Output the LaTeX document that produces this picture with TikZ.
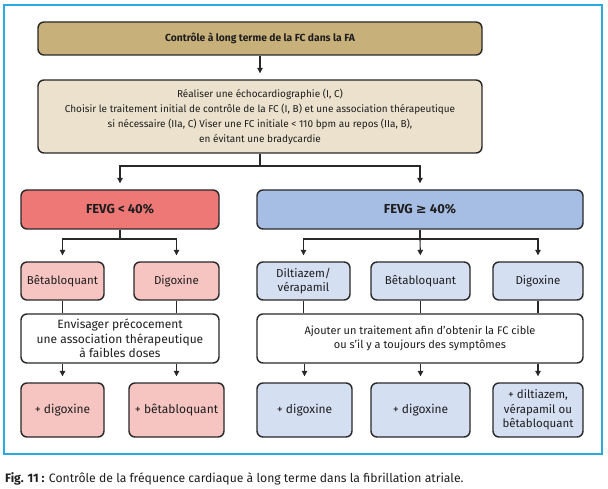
\documentclass[tikz,border=0pt]{standalone}
\usepackage{fontspec}
\setmainfont{Fira Sans}
\newfontfamily\symbfont{DejaVu Sans}
\usetikzlibrary{arrows.meta}

\definecolor{cadre}{RGB}{41,171,226}
\definecolor{trait}{RGB}{40,40,40}
\definecolor{texte}{RGB}{30,30,30}
\definecolor{titrefond}{RGB}{199,176,121}
\definecolor{beigefond}{RGB}{235,225,204}
\definecolor{rouge}{RGB}{238,120,118}
\definecolor{rougeclair}{RGB}{246,197,194}
\definecolor{bleu}{RGB}{167,190,228}
\definecolor{bleuclair}{RGB}{213,223,242}

\begin{document}
\begin{tikzpicture}[x=1pt, y=-1pt, font=\fontsize{11.5}{14.5}\selectfont,
    box/.style = {draw=trait, line width=1.4pt, rounded corners=6pt, align=center, text=texte, inner sep=2pt},
    titre/.style = {font=\fontsize{10.3}{15}\selectfont\bfseries},
    fevg/.style = {font=\fontsize{13}{15}\selectfont\bfseries},
    ajoutbox/.style = {font=\fontsize{12}{14.5}\selectfont},
    link/.style = {draw=trait, line width=1.1pt},
    fleche/.style = {link, -{Triangle[length=5.5pt,width=5.5pt]}, shorten >=6pt}]
    \useasboundingbox (0,0) rectangle (608,489);
    \draw[cadre, line width=1.5pt] (4,5) rectangle (602,454);

    % haut
    \node[box, titre, fill=titrefond, minimum width=444pt, minimum height=33pt] (titre) at (260,38.5) {Contrôle à long terme de la FC dans la FA};
    \node[box, fill=beigefond, minimum width=444pt, minimum height=73pt, font=\fontsize{10}{15}\selectfont] (bilan) at (260,116.5) {Réaliser une échocardiographie (I, C)\\Choisir le traitement initial de contrôle de la FC (I, B) et une association thérapeutique\\si nécessaire (IIa, C) Viser une FC initiale < 110 bpm au repos (IIa, B),\\en évitant une bradycardie};

    % FEVG
    \node[box, fevg, fill=rouge, minimum width=198pt, minimum height=39pt] (basse) at (120,209.5) {FEVG < 40\%};
    \node[box, fevg, fill=bleu, minimum width=326pt, minimum height=39pt] (haute) at (420,209.5) {FEVG {\symbfont\bfseries ≥} 40\%};

    % traitements initiaux
    \node[box, fill=rougeclair, minimum width=83pt, minimum height=38pt] (beta1) at (62.5,281) {Bêtabloquant};
    \node[box, fill=rougeclair, minimum width=85pt, minimum height=38pt] (digo1) at (176.5,281) {Digoxine};
    \node[box, fill=bleuclair, minimum width=93pt, minimum height=38pt] (dilt) at (303.5,281) {Diltiazem/\\vérapamil};
    \node[box, fill=bleuclair, minimum width=99pt, minimum height=38pt] (beta2) at (420.5,281) {Bêtabloquant};
    \node[box, fill=bleuclair, minimum width=90pt, minimum height=38pt] (digo2) at (538,281) {Digoxine};

    % associations
    \node[box, fill=white, minimum width=198pt, minimum height=49pt, font=\fontsize{12}{14.5}\selectfont] (envis) at (120,338.5) {Envisager précocement\\une association thérapeutique\\à faibles doses};
    \node[box, fill=white, minimum width=326pt, minimum height=49pt, font=\fontsize{11}{14.5}\selectfont] (ajout) at (420,338.5) {Ajouter un traitement afin d’obtenir la FC cible\\ou s’il y a toujours des symptômes};

    % ajouts
    \node[box, ajoutbox, fill=rougeclair, minimum width=83pt, minimum height=54pt] (plusd1) at (62.5,410) {+ digoxine};
    \node[box, ajoutbox, fill=rougeclair, minimum width=95pt, minimum height=54pt] (plusb1) at (176.5,410) {+ bêtabloquant};
    \node[box, ajoutbox, fill=bleuclair, minimum width=95pt, minimum height=54pt] (plusd2) at (304.5,410) {+ digoxine};
    \node[box, ajoutbox, fill=bleuclair, minimum width=99pt, minimum height=54pt] (plusd3) at (420.5,410) {+ digoxine};
    \node[box, ajoutbox, fill=bleuclair, minimum width=90pt, minimum height=54pt, font=\fontsize{11.5}{14.5}\selectfont] (plusdv) at (538,410) {+ diltiazem,\\vérapamil ou\\bêtabloquant};

    % legende
    \node[anchor=west, inner sep=0pt, text=texte, font=\fontsize{12.2}{14}\selectfont] (legende) at (5,479) {\textbf{Fig. 11 :} Contrôle de la fréquence cardiaque à long terme dans la fibrillation atriale.};

    % liaisons
    \draw[fleche] (titre.south) -- (bilan.north);
    \coordinate (split) at (260,166);
    \draw[link] (bilan.south) -- (split);
    \draw[fleche] (split) -| (basse.north);
    \draw[fleche] (split) -| (haute.north);

    \coordinate (splitb) at (120,239);
    \draw[link] (basse.south) -- (splitb);
    \draw[fleche] (splitb) -| (beta1.north);
    \draw[fleche] (splitb) -| (digo1.north);

    \coordinate (splith) at (420,239);
    \draw[link] (haute.south) -- (splith);
    \draw[fleche] (splith) -| (dilt.north);
    \draw[fleche] (splith) -- (beta2.north);
    \draw[fleche] (splith) -| (digo2.north);

    \foreach \n in {beta1, digo1} \draw[link] (\n.south) -- (\n.south |- envis.north);
    \foreach \n in {dilt, beta2, digo2} \draw[link] (\n.south) -- (\n.south |- ajout.north);
    \foreach \n in {plusd1, plusb1} \draw[fleche] (\n.north |- envis.south) -- (\n.north);
    \foreach \n in {plusd2, plusd3, plusdv} \draw[fleche] (\n.north |- ajout.south) -- (\n.north);
\end{tikzpicture}
\end{document}
